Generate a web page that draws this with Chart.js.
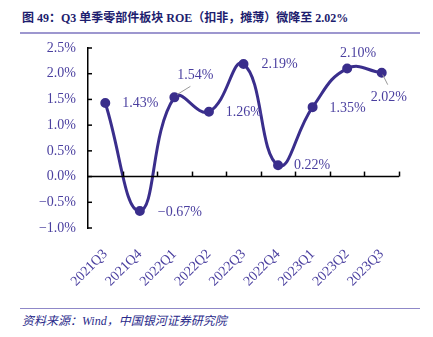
<!DOCTYPE html>
<html>
<head>
<meta charset="utf-8">
<script src="https://cdn.jsdelivr.net/npm/chart.js@4"></script>
<style>
    body { margin: 0; background: #fff; }
    #wrap { position: relative; width: 433px; height: 337px; overflow: hidden; }
    #title {
        position: absolute; left: 22px; top: 8px;
        font: bold 12px "Liberation Serif", "Noto Sans CJK SC", serif;
        color: #1d1d6e; white-space: nowrap;
    }
    #titleLine { position: absolute; left: 20px; top: 32px; width: 400px; height: 2px; background: #9d97cf; }
    #chartBox { position: absolute; left: 0; top: 0; width: 433px; height: 305px; }
    #footLine { position: absolute; left: 20px; top: 308px; width: 400px; height: 1px; background: #8f88c8; }
    #source {
        position: absolute; left: 22px; top: 311px;
        font: italic 12px "Liberation Serif", "Noto Sans CJK SC", serif;
        color: #2a2a8a; white-space: nowrap;
    }
</style>
</head>
<body>
<div id="wrap">
    <div id="title">图 49：Q3 单季零部件板块 ROE（扣非，摊薄）微降至 2.02%</div>
    <div id="titleLine"></div>
    <div id="chartBox"><canvas id="roeChart" width="433" height="305"></canvas></div>
    <div id="footLine"></div>
    <div id="source">资料来源：Wind，中国银河证券研究院</div>
</div>
<script>
// Data
const quarters = ["2021Q3", "2021Q4", "2022Q1", "2022Q2", "2022Q3", "2022Q4", "2023Q1", "2023Q2", "2023Q3"];
const roeValues = [1.43, -0.67, 1.54, 1.26, 2.19, 0.22, 1.35, 2.10, 2.02];
const yTicks = [-1.0, -0.5, 0.0, 0.5, 1.0, 1.5, 2.0, 2.5];

const textColor = "#4a3f9f";
const lineColor = "#3a2e8c";

function fmt(v, digits) {
    const s = Math.abs(v).toFixed(digits) + "%";
    return v < 0 ? "\u2212" + s : s;
}

// label offsets from the point (dx, dy), and which labels get a leader line
const labelOffsets = [[35, 0], [40, 1], [21, -22], [35, 1], [36, 0], [34, 0], [35, 1], [11, -15], [7, 25]];
const leaders = { 2: [[3, -3], [16, -11]], 8: [[1, 2], [6, 12]] };

// axis line at zero, inward tick marks, value labels
const roePlugin = {
    id: "roePlugin",
    afterDatasetsDraw(chart) {
        const ctx = chart.ctx;
        const x = chart.scales.x;
        const y = chart.scales.y;
        const y0 = y.getPixelForValue(0);
        ctx.save();
        ctx.strokeStyle = "#000";
        ctx.lineWidth = 1.5;
        // zero line
        ctx.beginPath();
        ctx.moveTo(x.left, y0);
        ctx.lineTo(x.right, y0);
        ctx.stroke();
        // x ticks between categories, pointing up
        const step = x.width / quarters.length;
        for (let i = 1; i <= quarters.length; i++) {
            const px = Math.round(x.left + i * step) + 0.5;
            ctx.beginPath();
            ctx.moveTo(px, y0);
            ctx.lineTo(px, y0 - 5);
            ctx.stroke();
        }
        // y axis ticks pointing right
        yTicks.forEach(t => {
            const py = y.getPixelForValue(t);
            ctx.beginPath();
            ctx.moveTo(x.left, py);
            ctx.lineTo(x.left + 4, py);
            ctx.stroke();
        });

        // value labels
        const meta = chart.getDatasetMeta(0);
        ctx.font = "14px 'Liberation Serif'";
        ctx.textAlign = "center";
        ctx.textBaseline = "middle";
        meta.data.forEach((pt, i) => {
            const off = labelOffsets[i];
            if (leaders[i]) {
                ctx.strokeStyle = "#999";
                ctx.lineWidth = 1;
                ctx.beginPath();
                ctx.moveTo(pt.x + leaders[i][0][0], pt.y + leaders[i][0][1]);
                ctx.lineTo(pt.x + leaders[i][1][0], pt.y + leaders[i][1][1]);
                ctx.stroke();
            }
            ctx.fillStyle = textColor;
            ctx.fillText(fmt(roeValues[i], 2), pt.x + off[0], pt.y + off[1]);
        });
        ctx.restore();
    }
};

new Chart(document.getElementById("roeChart"), {
    type: "line",
    data: {
        labels: quarters,
        datasets: [{
            data: roeValues,
            borderColor: lineColor,
            backgroundColor: lineColor,
            borderWidth: 3,
            pointRadius: 3.5,
            tension: 0.45,
            clip: false
        }]
    },
    options: {
        responsive: false,
        animation: false,
        layout: { padding: { top: 48, right: 34, left: 0, bottom: 0 } },
        plugins: {
            legend: { display: false },
            tooltip: { enabled: false }
        },
        scales: {
            x: {
                offset: true,
                grid: { display: false, drawTicks: false },
                border: { display: false },
                ticks: {
                    color: textColor,
                    font: { family: "Liberation Serif", size: 14 },
                    minRotation: 45,
                    maxRotation: 45,
                    padding: 18
                },
                afterFit(scale) { scale.height = 77; }
            },
            y: {
                min: -1.0,
                max: 2.5,
                afterBuildTicks(scale) { scale.ticks = yTicks.map(v => ({ value: v })); },
                grid: { display: false, drawTicks: false },
                border: { display: true, color: "#000", width: 1.5 },
                ticks: {
                    color: textColor,
                    font: { family: "Liberation Serif", size: 14 },
                    padding: 12,
                    callback: v => fmt(v, 1)
                },
                afterFit(scale) { scale.width = 88; }
            }
        }
    },
    plugins: [roePlugin]
});
</script>
</body>
</html>
